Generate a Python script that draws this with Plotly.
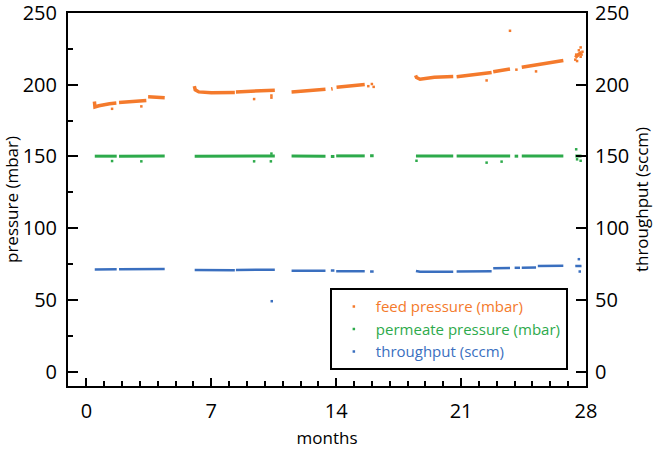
import plotly.graph_objects as go

# ---------------- data (months, value) ----------------
# dense recorded stretches (None separates the gaps in the record)
feed_month = [0.45, 0.48, 0.7, 1.0, 1.3, 1.68, None,
              1.83, 2.5, 3.36, None,
              3.46, 4.0, 4.39, None,
              6.05, 6.1, 6.3, 7.0, 8.32, None,
              8.38, 9.5, 10.56, None,
              11.5, 12.5, 13.4, None,
              13.72, 13.8, None,
              14.02, 15.6, None,
              18.45, 18.5, 18.7, 19.0, 19.5, 20.56, None,
              20.75, 21.5, 22.71, None,
              22.8, 23.74, None,
              24.4, 25.5, 26.73, None,
              27.4, 27.5, 27.62, 27.75]
feed_value = [188.3, 184.5, 185.3, 186.2, 186.8, 187.3, None,
              187.6, 188.2, 189.0, None,
              191.6, 191.5, 191.0, None,
              199.0, 196.5, 195.0, 194.4, 194.5, None,
              195.0, 195.5, 196.2, None,
              195.0, 196.0, 196.8, None,
              197.0, 197.2, None,
              198.3, 200.2, None,
              206.5, 205.0, 203.8, 204.5, 205.2, 205.8, None,
              205.5, 206.8, 208.6, None,
              209.0, 210.9, None,
              212.2, 214.5, 216.9, None,
              219.0, 220.5, 221.5, 222.5]
feed_pts_month = [1.44, 3.08, 9.4, 10.37, 10.37, 15.8, 16.0, 16.1, 22.43, 23.74,
                  24.1, 25.2, 27.4, 27.45, 27.5, 27.6, 27.7, 27.7, 27.75, 27.8]
feed_pts_value = [183.2, 184.9, 190.0, 191.0, 192.5, 199.0, 200.5, 198.5, 203.0, 237.6,
                  210.5, 209.3, 217.5, 221.0, 216.5, 224.0, 226.0, 219.5, 221.0, 223.0]

perm_month = [0.47, 1.7, None, 1.83, 4.39, None, 6.07, 10.56, None,
              11.5, 13.4, None, 13.7, 13.9, None, 14.0, 15.6, None, 15.9, 16.1, None,
              18.47, 20.56, None, 20.75, 23.75, None, 24.0, 24.2, None,
              24.4, 26.73, None, 27.4, 27.75]
perm_value = [150.2, 150.2, None, 150.2, 150.3, None, 150.2, 150.3, None,
              150.3, 150.2, None, 150.0, 150.0, None, 150.4, 150.4, None, 150.5, 150.5, None,
              150.4, 150.4, None, 150.4, 150.3, None, 150.2, 150.2, None,
              150.4, 150.4, None, 150.3, 150.3]
perm_pts_month = [1.44, 3.08, 9.4, 10.34, 10.37, 18.5, 22.43, 23.27, 27.45, 27.5, 27.7]
perm_pts_value = [146.8, 146.6, 146.6, 146.6, 152.0, 147.0, 145.7, 146.4, 155.0, 148.0, 147.0]

thr_month = [0.47, 1.7, None, 1.83, 4.39, None, 6.07, 8.32, None,
             8.38, 10.56, None, 11.5, 13.4, None, 13.7, 13.9, None,
             14.0, 15.6, None, 15.9, 16.1, None,
             18.47, 18.7, 20.56, None, 20.75, 22.71, None, 22.8, 23.74, None,
             24.0, 24.3, None, 24.4, 25.2, None, 25.3, 26.73, None, 27.4, 27.75]
thr_value = [71.2, 71.3, None, 71.4, 71.6, None, 70.8, 70.7, None,
             70.9, 71.0, None, 70.3, 70.4, None, 70.5, 70.5, None,
             70.0, 70.0, None, 69.8, 69.8, None,
             70.2, 69.6, 69.7, None, 69.8, 70.0, None, 72.0, 72.3, None,
             72.4, 72.4, None, 72.5, 72.6, None, 73.6, 73.8, None, 73.6, 73.7]
thr_pts_month = [10.39, 27.6, 27.65]
thr_pts_value = [49.1, 78.4, 69.8]

names = ["feed pressure (mbar)", "permeate pressure (mbar)", "throughput (sccm)"]
colors = ["#F47A2C", "#2DAA4B", "#3A6FBF"]

x_ticks = [0, 7, 14, 21, 28]
y_ticks = [0, 50, 100, 150, 200, 250]

# ---------------- figure ----------------
fig = go.Figure()
series = [
    (feed_month, feed_value, feed_pts_month, feed_pts_value, 3.5, "y"),
    (perm_month, perm_value, perm_pts_month, perm_pts_value, 3, "y"),
    (thr_month, thr_value, thr_pts_month, thr_pts_value, 2.5, "y2"),
]
for (xm, yv, xp, yp, lw, ax), name, col in zip(series, names, colors):
    fig.add_trace(go.Scatter(x=xm, y=yv, mode="lines", yaxis=ax,
                             line=dict(color=col, width=lw), connectgaps=False,
                             showlegend=False, legendgroup=name, hoverinfo="skip"))
    fig.add_trace(go.Scatter(x=xp, y=yp, mode="markers", yaxis=ax,
                             marker=dict(color=col, size=2.5, symbol="square"),
                             name=f'<span style="color:{col}">{name}</span>',
                             legendgroup=name))

axis_common = dict(showline=True, linecolor="black", linewidth=2, ticks="inside",
                   tickcolor="black", tickwidth=2, showgrid=False, zeroline=False,
                   automargin=False, ticklabeloverflow="allow",
                   tickfont=dict(size=20, color="black"))

fig.update_layout(
    width=653, height=449,
    margin=dict(l=68, r=67, t=13, b=63),
    paper_bgcolor="white", plot_bgcolor="white",
    font=dict(family="Open Sans, Noto Sans, sans-serif", color="black"),
    xaxis=dict(range=[-1.03, 28], tickvals=x_ticks, ticklen=8, mirror=True,
               minor=dict(dtick=1, tick0=0, ticks="inside", ticklen=5, tickwidth=1.5,
                          tickcolor="black"),
               title=dict(text="months", font=dict(size=17), standoff=13),
               ticklabelstandoff=6, **axis_common),
    yaxis=dict(range=[-10, 250], tickvals=y_ticks, ticklen=10,
               minor=dict(dtick=25, tick0=0, ticks="inside", ticklen=5, tickwidth=1.5,
                          tickcolor="black"),
               title=dict(text="pressure (mbar)", font=dict(size=17), standoff=0),
               ticklabelstandoff=5, **axis_common),
    yaxis2=dict(range=[-10, 250], tickvals=y_ticks, ticklen=10, overlaying="y",
                side="right", title=dict(text="throughput (sccm)", font=dict(size=17), standoff=12),
                ticklabelstandoff=3, **axis_common),
    legend=dict(x=0.5055, y=0.262, xanchor="left", yanchor="top",
                bordercolor="black", borderwidth=2, bgcolor="white",
                font=dict(size=15), itemwidth=34, tracegroupgap=0),
    showlegend=True,
)

fig.write_html("out.html")
